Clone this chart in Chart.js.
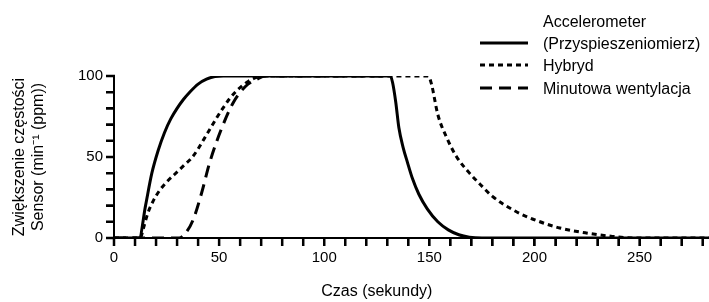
<!DOCTYPE html>
<html>
<head>
<meta charset="utf-8">
<script src="https://cdn.jsdelivr.net/npm/chart.js@4.4.0/dist/chart.umd.min.js"></script>
<style>
  html, body { margin: 0; padding: 0; background: #fff; }
</style>
</head>
<body>
<canvas id="myChart" width="709" height="302"></canvas>
<script>
// values (time in s, rate increase in ppm)
var accelTime  = [0, 12, 15, 18, 21, 24, 27, 30, 33, 36, 40, 44, 48, 52, 131.5, 132.5, 134, 135.5, 137.5, 139.5, 142, 145, 149, 154, 159, 164, 169, 175, 283];
var accelValue = [0, 0, 20, 40, 54, 65, 73.5, 80, 85.5, 90, 95, 98, 99.7, 100, 100, 96, 84, 68, 56, 47, 36.5, 27, 18, 10, 5, 2, 0.5, 0, 0];

var hybridTime  = [0, 12.5, 14, 16, 18.5, 21.5, 25, 29, 33, 37, 40, 43, 46, 49, 52, 55, 58, 61, 64, 67, 70, 149.5, 151, 154, 158.7, 163, 169, 175, 180, 191, 202, 212, 224.6, 237, 247, 283];
var hybridValue = [0, 0, 6, 15, 22.5, 29, 34.5, 39.5, 44.5, 49.5, 55, 61.5, 68, 74.5, 80.5, 86, 90.5, 94, 96.8, 98.8, 100, 100, 95, 76.3, 60.7, 50, 40.2, 32, 25.7, 16.5, 10.3, 6.2, 3.1, 1, 0, 0];

var ventTime  = [0, 31, 34, 37.5, 41.5, 45.5, 50.7, 56.7, 62.5, 68, 72, 130];
var ventValue = [0, 0, 3, 10.8, 27, 46.5, 66, 83.5, 93.5, 98, 100, 100];

var seriesNames = [['Accelerometer', '(Przyspieszeniomierz)'], ['Hybryd'], ['Minutowa wentylacja']];
var xTicks = [0, 50, 100, 150, 200, 250];
var yTicks = [0, 50, 100];
var xTitle = 'Czas (sekundy)';
var yTitle = ['Zwiększenie częstości', 'Sensor (min\u207B\u00B9 (ppm))'];

var FONT = '"Liberation Sans", Arial, sans-serif';

function toPoints(t, v) {
    var pts = [];
    for (var i = 0; i < t.length; i++) {
        pts.push({ x: t[i], y: v[i] });
    }
    return pts;
}

Chart.defaults.font.family = FONT;
Chart.defaults.font.size = 15;
Chart.defaults.color = '#000';

var sideLegend = {
    id: 'sideLegend',
    afterDraw: function(chart) {
        var ctx = chart.ctx;
        var rows = [43, 65, 88];
        chart.data.datasets.forEach(function(ds, i) {
            var y = rows[i];
            ctx.save();
            ctx.strokeStyle = ds.borderColor;
            ctx.lineWidth = ds.borderWidth;
            ctx.setLineDash(ds.borderDash || []);
            ctx.beginPath();
            ctx.moveTo(480, y);
            ctx.lineTo(528, y);
            ctx.stroke();
            ctx.setLineDash([]);
            ctx.fillStyle = '#000';
            ctx.font = '16px ' + FONT;
            ctx.textBaseline = 'middle';
            var lines = seriesNames[i];
            for (var j = 0; j < lines.length; j++) {
                ctx.fillText(lines[j], 543, y + 1.5 - (lines.length - 1 - j) * 22);
            }
            ctx.restore();
        });
    }
};

// tick marks (every 10) + x title
var axisExtras = {
    id: 'axisExtras',
    afterDraw: function(chart) {
        var ctx = chart.ctx;
        var area = chart.chartArea;
        var xs = chart.scales.x, ys = chart.scales.y;
        var v;
        ctx.save();
        ctx.setLineDash([]);
        ctx.strokeStyle = '#000';
        ctx.lineWidth = 2.5;
        ctx.beginPath();
        for (v = 0; v <= xs.max; v += 10) {
            var px = xs.getPixelForValue(v);
            ctx.moveTo(px, area.bottom - 1);
            ctx.lineTo(px, area.bottom + 8);
        }
        for (v = 0; v <= ys.max; v += 10) {
            var py = ys.getPixelForValue(v);
            ctx.moveTo(area.left + 1, py);
            ctx.lineTo(area.left - 8, py);
        }
        ctx.stroke();
        ctx.fillStyle = '#000';
        ctx.font = '16px ' + FONT;
        ctx.textAlign = 'center';
        ctx.textBaseline = 'middle';
        ctx.fillText(xTitle, xs.getPixelForValue(125), 292);
        ctx.restore();
    }
};

var ctx = document.getElementById('myChart').getContext('2d');
var myChart = new Chart(ctx, {
    type: 'line',
    data: {
        datasets: [{
            label: seriesNames[0].join(' '),
            data: toPoints(accelTime, accelValue),
            borderColor: '#000',
            borderWidth: 3,
            borderDash: []
        }, {
            label: seriesNames[1][0],
            data: toPoints(hybridTime, hybridValue),
            borderColor: '#000',
            borderWidth: 3,
            borderDash: [5, 4]
        }, {
            label: seriesNames[2][0],
            data: toPoints(ventTime, ventValue),
            borderColor: '#000',
            borderWidth: 3,
            borderDash: [12, 7]
        }]
    },
    options: {
        responsive: false,
        animation: false,
        devicePixelRatio: 1,
        layout: { padding: { top: 76, right: 0, bottom: 0, left: 0 } },
        elements: {
            point: { radius: 0 },
            line: { cubicInterpolationMode: 'monotone', fill: false }
        },
        plugins: {
            legend: { display: false },
            tooltip: { enabled: false }
        },
        scales: {
            x: {
                type: 'linear',
                min: 0,
                max: 283,
                afterFit: function(scale) { scale.height = 64; },
                grid: { drawOnChartArea: false, drawTicks: true, tickLength: 8, color: '#000', lineWidth: 2 },
                border: { display: true, color: '#000', width: 2 },
                ticks: {
                    stepSize: 10,
                    autoSkip: false,
                    includeBounds: false,
                    maxRotation: 0,
                    padding: 3,
                    callback: function(value) { return xTicks.indexOf(value) >= 0 ? value : ''; }
                }
            },
            y: {
                min: 0,
                max: 100,
                afterFit: function(scale) { scale.width = 114; },
                grid: { drawOnChartArea: false, drawTicks: true, tickLength: 8, color: '#000', lineWidth: 2 },
                border: { display: true, color: '#000', width: 2 },
                title: { display: true, text: yTitle, font: { size: 16 }, padding: { top: 10, bottom: 0 } },
                ticks: {
                    stepSize: 10,
                    autoSkip: false,
                    padding: 3,
                    callback: function(value) { return yTicks.indexOf(value) >= 0 ? value : ''; }
                }
            }
        }
    },
    plugins: [sideLegend, axisExtras]
});
</script>
</body>
</html>
